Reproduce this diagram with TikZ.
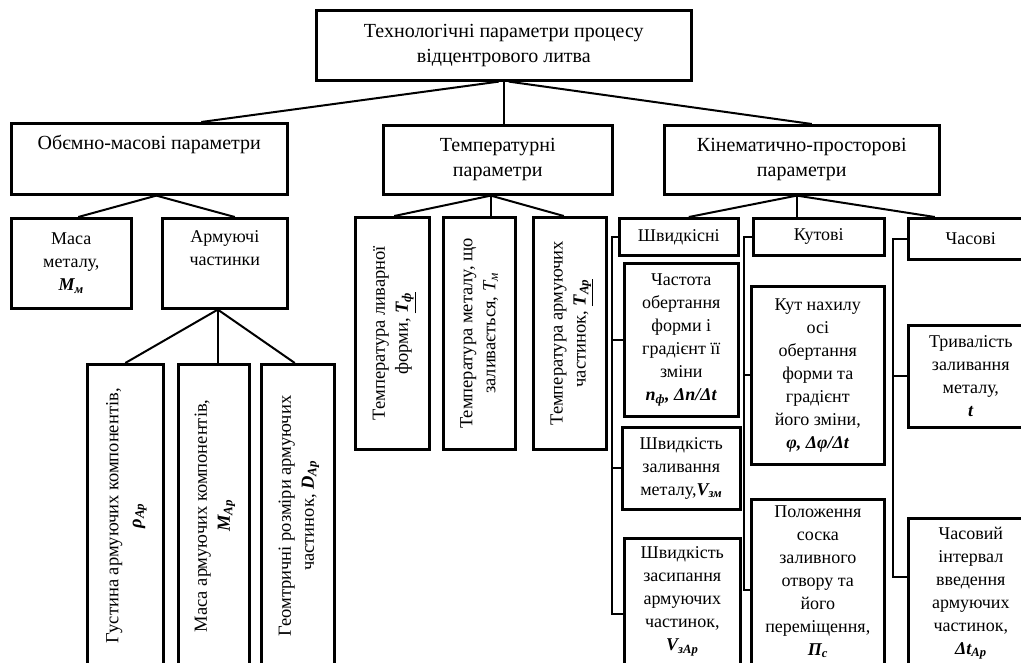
\documentclass[tikz,border=0pt]{standalone}
\usepackage{fontspec}
\setmainfont{Liberation Serif}
\usepackage{graphicx}
\usetikzlibrary{calc}

\newcommand{\parsym}[1]{\textbf{\textit{#1}}}

\begin{document}
\begin{tikzpicture}[
  x=1pt, y=-1pt,
  box/.style={draw, line width=2.6pt, inner sep=2pt, align=center,
              anchor=north west, font=\fontsize{18}{23}\selectfont},
  headbox/.style={box, font=\fontsize{20}{25}\selectfont},
  vertbox/.style={box, font=\fontsize{18.5}{23}\selectfont},
  link/.style={line width=2pt}
]

\useasboundingbox (0,0) rectangle (1021,662);
\clip (0,0) rectangle (1021,662);

% ----- верхній блок -----
\node[headbox, minimum width=375pt, minimum height=70pt] (top) at (315,9)
  {Технологічні параметри процесу\\відцентрового литва};

% ----- групи параметрів -----
\node[headbox, minimum width=276pt, minimum height=71pt] (vol) at (10,122)
  {Обємно-масові параметри\\\strut};
\node[headbox, minimum width=229pt, minimum height=69pt] (temp) at (382,124)
  {Температурні\\параметри};
\node[headbox, minimum width=275pt, minimum height=69pt] (kin) at (663,124)
  {Кінематично-просторові\\параметри};

\draw[link] ([xshift=-5]top.south) -- ([xshift=52]vol.north);
\draw[link] (top.south) -- (top.south |- temp.north);
\draw[link] ([xshift=5]top.south) -- ([xshift=10]kin.north);

% ----- обємно-масові -----
\node[box, minimum width=120pt, minimum height=90pt] (mass) at (10,217)
  {Маса\\металу,\\\parsym{M\textsubscript{м}}};
\node[box, minimum width=125pt, minimum height=90pt] (arm) at (161,217)
  {Армуючі\\частинки\\\strut};

\draw[link] ([xshift=7]vol.south) -- ([xshift=7]mass.north);
\draw[link] ([xshift=7]vol.south) -- ([xshift=10]arm.north);

\node[vertbox, minimum width=76pt, minimum height=303pt] (dens) at (86,363)
  {\rotatebox{90}{\begin{tabular}{@{}c@{}}Густина армуючих компонентів,\\
   \parsym{ρ\textsubscript{Ар}}\end{tabular}}};
\node[vertbox, minimum width=71pt, minimum height=303pt] (armmass) at (177,363)
  {\rotatebox{90}{\begin{tabular}{@{}c@{}}Маса армуючих компонентів,\\
   \parsym{M\textsubscript{Ар}}\end{tabular}}};
\node[vertbox, minimum width=73pt, minimum height=303pt] (size) at (260,363)
  {\rotatebox{90}{\begin{tabular}{@{}c@{}}Геомтричні розміри армуючих\\
   частинок, \parsym{D\textsubscript{Ар}}\end{tabular}}};

\draw[link] ([xshift=-7]arm.south) -- (dens.north);
\draw[link] ([xshift=-7]arm.south) -- ([xshift=-7]arm.south |- armmass.north);
\draw[link] ([xshift=-7]arm.south) -- ([xshift=-3]size.north);

% ----- температурні -----
\node[vertbox, minimum width=74pt, minimum height=232pt] (tform) at (354,216)
  {\rotatebox{90}{\begin{tabular}{@{}c@{}}Температура ливарної\\
   форми, \underline{\parsym{T\textsubscript{ф}}}\end{tabular}}};
\node[vertbox, minimum width=72pt, minimum height=232pt] (tmetal) at (442,216)
  {\rotatebox{90}{\begin{tabular}{@{}c@{}}Температура металу, що\\
   заливається, \textit{T\textsubscript{м}}\end{tabular}}};
\node[vertbox, minimum width=73pt, minimum height=232pt] (tpart) at (532,216)
  {\rotatebox{90}{\begin{tabular}{@{}c@{}}Температура армуючих\\
   частинок, \underline{\parsym{T\textsubscript{Ар}}}\end{tabular}}};

\draw[link] ([xshift=-7]temp.south) -- ([xshift=2]tform.north);
\draw[link] ([xshift=-7]temp.south) -- ([xshift=-7]temp.south |- tmetal.north);
\draw[link] ([xshift=-7]temp.south) -- ([xshift=-6]tpart.north);

% ----- кінематично-просторові -----
\node[box, minimum width=119pt, minimum height=37pt] (speed) at (618,217) {Швидкісні};
\node[box, minimum width=131pt, minimum height=37pt] (angle) at (752,217) {Кутові};
\node[box, minimum width=125pt, minimum height=41pt] (time) at (907,217) {Часові};

\draw[link] ([xshift=-5]kin.south) -- ([xshift=10]speed.north);
\draw[link] ([xshift=-5]kin.south) -- ([xshift=-5]kin.south |- angle.north);
\draw[link] ([xshift=-5]kin.south) -- ([xshift=-36]time.north);

% швидкісні
\node[box, minimum width=114pt, minimum height=153pt] (freq) at (623,262)
  {Частота\\обертання\\форми і\\градієнт її\\зміни\\
   \parsym{n\textsubscript{ф}, Δn/Δt}};
\node[box, minimum width=118pt, minimum height=82pt] (pour) at (621,426)
  {Швидкість\\заливання\\металу,\parsym{V\textsubscript{зм}}};
\node[box, minimum width=116pt, minimum height=126pt] (fill) at (623,537)
  {Швидкість\\засипання\\армуючих\\частинок,\\\parsym{V\textsubscript{зАр}}};

% кутові
\node[box, minimum width=133pt, minimum height=178pt] (tilt) at (750,285)
  {Кут нахилу\\осі\\обертання\\форми та\\градієнт\\його зміни,\\
   \parsym{φ, Δφ/Δt}};
\node[box, minimum width=133pt, minimum height=165pt] (spout) at (750,498)
  {Положення\\соска\\заливного\\отвору та\\його\\переміщення,\\
   \parsym{П\textsubscript{с}}};

% часові
\node[box, minimum width=125pt, minimum height=102pt] (dur) at (907,324)
  {Тривалість\\заливання\\металу,\\\parsym{t}};
\node[box, minimum width=125pt, minimum height=150pt] (intv) at (907,517)
  {Часовий\\інтервал\\введення\\армуючих\\частинок,\\
   \parsym{Δt\textsubscript{Ар}}};

% ----- дужки підгруп -----
\coordinate (speedbar) at (612,0);
\coordinate (anglebar) at (744,0);
\coordinate (timebar) at (893,0);
\coordinate (fillend) at ([yshift=-13pt]fill.west);
\coordinate (spoutend) at ([yshift=-8pt]spout.west);
\coordinate (intvend) at ([yshift=16pt]intv.west);

\draw[link] (speed.west) -- (speed.west -| speedbar) -- (speedbar |- fillend) -- (fillend);
\draw[link] (freq.west) -- (freq.west -| speedbar);
\draw[link] (pour.west) -- (pour.west -| speedbar);

\draw[link] (angle.west) -- (angle.west -| anglebar) -- (anglebar |- spoutend) -- (spoutend);
\draw[link] (tilt.west) -- (tilt.west -| anglebar);

\draw[link] (time.west) -- (time.west -| timebar) -- (timebar |- intvend) -- (intvend);
\draw[link] (dur.west) -- (dur.west -| timebar);
\end{tikzpicture}
\end{document}
